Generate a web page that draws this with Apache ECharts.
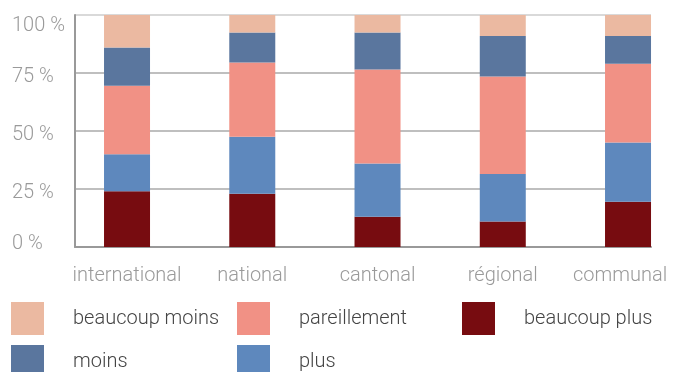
<!DOCTYPE html>
<html>
<head>
<meta charset="utf-8">
<script src="https://cdn.jsdelivr.net/npm/echarts@6/dist/echarts.min.js"></script>
<style>
  html, body { margin: 0; padding: 0; background: #ffffff; }
  #chart { width: 676px; height: 372px; }
</style>
</head>
<body>
<div id="chart"></div>
<script>
// Categories (x axis) and tick labels (y axis)
const categories = ['international', 'national', 'cantonal', 'régional', 'communal'];
const yTicks = [0, 25, 50, 75, 100];

// Share of answers per category, in percent (stacked bottom to top)
const beaucoupPlus  = [24, 23, 13, 11, 19.5];
const plus          = [16, 24.5, 23, 20.5, 25.5];
const pareillement  = [29.5, 32, 40.5, 42, 34];
const moins         = [16.5, 13, 16, 17.5, 12];
const beaucoupMoins = [14, 7.5, 7.5, 9, 9];

const seriesDefs = [
  { name: 'beaucoup plus',  data: beaucoupPlus,  color: '#770c10' },
  { name: 'plus',           data: plus,          color: '#5e88bd' },
  { name: 'pareillement',   data: pareillement,  color: '#f19185' },
  { name: 'moins',          data: moins,         color: '#5a769e' },
  { name: 'beaucoup moins', data: beaucoupMoins, color: '#ebb9a1' }
];

// Legend layout: [name, left, top]
const legendSlots = [
  ['beaucoup moins', 11, 302],
  ['pareillement', 237, 302],
  ['beaucoup plus', 462, 302],
  ['moins', 11, 345],
  ['plus', 237, 345]
];

const FONT = 'Roboto, "Liberation Sans", sans-serif';
const FS = 20;
const GREY = '#9a9a9a';
const chart = echarts.init(document.getElementById('chart'), null, { renderer: 'canvas' });

function tickStyle(padding) {
  return { fontFamily: FONT, fontWeight: 300, fontSize: FS, color: GREY, padding: padding };
}

const option = {
  animation: false,
  backgroundColor: '#ffffff',
  legend: legendSlots.map(function (s) {
    return {
      orient: 'horizontal', left: s[1], top: s[2], padding: 0,
      itemWidth: 33, itemHeight: 33, icon: 'rect', selectedMode: false,
      textStyle: { fontFamily: FONT, fontWeight: 300, fontSize: FS, color: '#444444', padding: [0, 0, 0, 24] },
      data: [s[0]]
    };
  }),
  grid: [
    // frame carrying the percentage axis and gridlines
    { left: 75, top: 15, width: 576, height: 232, outerBoundsMode: 'none' },
    // category bands holding the bars (first band starts left of the frame)
    { left: 64.4, top: 15, width: 626.25, height: 232, outerBoundsMode: 'none' }
  ],
  xAxis: [
    {
      gridIndex: 0, type: 'category', data: categories, boundaryGap: true,
      axisLine: { show: true, lineStyle: { color: '#999999', width: 2 } },
      axisTick: { show: false }, axisLabel: { show: false }, splitLine: { show: false }
    },
    {
      gridIndex: 1, type: 'category', data: categories, boundaryGap: true,
      axisLine: { show: false }, axisTick: { show: false }, splitLine: { show: false },
      axisLabel: {
        margin: 19, fontFamily: FONT, fontWeight: 300, fontSize: FS, color: GREY,
        interval: 0,
        formatter: function (v, i) {
          return i === categories.length - 1 ? '{last|' + v + '}' : v;
        },
        rich: { last: tickStyle([0, 16, 0, 0]) }
      }
    }
  ],
  yAxis: [
    {
      gridIndex: 0, type: 'value', min: 0, max: 100, interval: 25,
      axisLine: { show: true, lineStyle: { color: '#999999', width: 2 } },
      axisTick: { show: false },
      splitLine: { show: true, lineStyle: { color: ['#999999', '#aaaaaa', '#aaaaaa', '#aaaaaa', '#cccccc'], width: 1.5 } },
      axisLabel: {
        align: 'left', margin: 63,
        fontFamily: FONT, fontWeight: 300, fontSize: FS, color: GREY,
        customValues: yTicks,
        formatter: function (v) {
          const t = v + ' %';
          if (v === yTicks[yTicks.length - 1]) return '{top|' + t + '}';
          if (v === yTicks[0]) return '{bottom|' + t + '}';
          return '{mid|' + t + '}';
        },
        rich: {
          top: tickStyle([22, 0, 0, 0]),
          mid: tickStyle([8, 0, 0, 0]),
          bottom: tickStyle([0, 0, 6, 0])
        }
      }
    },
    {
      gridIndex: 1, type: 'value', min: 0, max: 100, interval: 25, show: false
    }
  ],
  series: seriesDefs.map(function (s) {
    return {
      name: s.name, type: 'bar', stack: 'total',
      xAxisIndex: 1, yAxisIndex: 1,
      barWidth: 46,
      itemStyle: { color: s.color },
      data: s.data
    };
  })
};

chart.setOption(option);
</script>
</body>
</html>
